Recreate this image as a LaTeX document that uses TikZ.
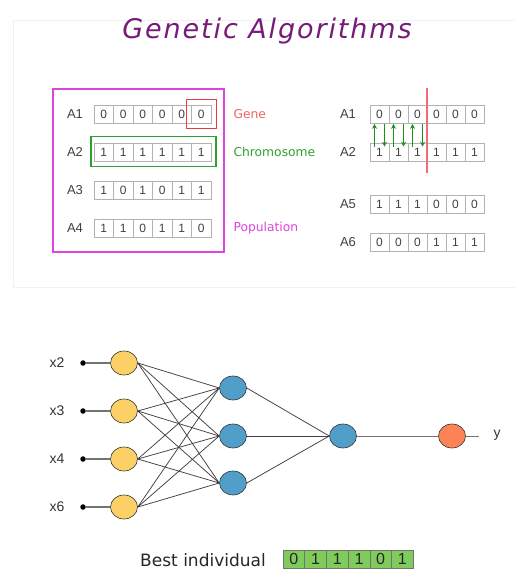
\documentclass[tikz,border=0pt]{standalone}
\usepackage{fontspec}
\setmainfont{Liberation Sans}
\newfontfamily\titlefont[LetterSpace=7]{DejaVu Sans}
\newfontfamily\widesans{DejaVu Sans}
\usetikzlibrary{shapes.geometric,arrows.meta}
\definecolor{titlepurple}{HTML}{761C78}
\definecolor{popmag}{HTML}{DD44DD}
\definecolor{genered}{HTML}{EE3B3B}
\definecolor{chromgreen}{HTML}{2EA02E}
\definecolor{cutred}{HTML}{F26A78}
\definecolor{swapgreen}{HTML}{1E8F1E}
\definecolor{inyellow}{HTML}{FBD066}
\definecolor{hidblue}{HTML}{519FC8}
\definecolor{outorange}{HTML}{FF8358}
\definecolor{bestgreen}{HTML}{7FCC5C}
\tikzset{
  x=1pt, y=-1pt,
  cell/.style={rectangle, draw=gray!60, line width=0.6pt, minimum width=#1, minimum height=18pt,
    inner sep=0pt, font=\fontsize{12}{12}\selectfont, text=black!75},
  cell/.default=19.5pt,
  rowlab/.style={font=\fontsize{13}{13}\selectfont, text=black!75},
  tag/.style={anchor=west, font=\widesans\fontsize{12.3}{12}\selectfont},
  swap/.style={draw=swapgreen, line width=1.1pt, -{Stealth[length=5pt,width=5pt]}},
  neuron/.style={ellipse, draw=black!80, line width=0.6pt, minimum width=27pt, minimum height=24pt, inner sep=0pt},
  wire/.style={draw=black!75, line width=0.75pt},
  inwire/.style={draw=black!55, line width=1.2pt},
  inlab/.style={font=\fontsize{14}{14}\selectfont, text=black!80},
  bestcell/.style={rectangle, draw=black!55, fill=bestgreen, line width=0.6pt, minimum width=21.7pt,
    minimum height=18pt, inner sep=0pt, font=\fontsize{16}{16}\selectfont, text=black!85}
}
% a row of genes: name, left edge, centre line, cell width, list of bits (a macro)
\newcommand\generow[5]{%
  \foreach \b [count=\i] in #5 {
    \node[cell=#4] (#1-\i) at ({#2+(\i-0.5)*#4},#3) {\b};
  }%
}
\begin{document}
\begin{tikzpicture}
\useasboundingbox (0,0) rectangle (514,569);

% faint frame of the upper panel
\draw[draw=black!6, line width=0.8pt] (13,287) -- (13,20) -- (530,20);
\draw[draw=black!5, line width=0.8pt] (13,287) -- (530,287);

% title
\node[anchor=base, font=\titlefont\itshape\fontsize{27}{28}\selectfont, text=titlepurple] (title) at (267,39) {Genetic Algorithms};

% population on the left
\foreach \r/\y/\bits in {1/114/{0,0,0,0,0,0}, 2/152/{1,1,1,1,1,1}, 3/190/{1,0,1,0,1,1}, 4/228/{1,1,0,1,1,0}} {
  \node[rowlab] (pa\r) at (75,\y) {A\r};
  \generow{p\r}{94}{\y}{19.5}{\bits}
}
\node[draw=popmag, line width=1.2pt, minimum width=171pt, minimum height=163pt, inner sep=0pt] (popbox) at (138.5,170.5) {};
\node[draw=genered, line width=1.1pt, minimum width=30pt, minimum height=29pt, inner sep=0pt] (genebox) at (p1-6) {};
\node[draw=chromgreen, line width=1.1pt, minimum width=125pt, minimum height=30pt, inner sep=0pt] (chrombox) at (153.5,151.5) {};
\node[tag, text=genered!80] (genetag) at (230,114) {Gene};
\node[tag, text=chromgreen] (chromtag) at (230,152) {Chromosome};
\node[tag, text=popmag] (poptag) at (230,228) {Population};

% crossover on the right
\foreach \lab/\nm/\y/\bits in {A1/c1/114/{0,0,0,0,0,0}, A2/c2/152/{1,1,1,1,1,1}, A5/c5/204/{1,1,1,0,0,0}, A6/c6/242/{0,0,0,1,1,1}} {
  \node[rowlab] (\nm lab) at (348,\y) {\lab};
  \generow{\nm}{370}{\y}{19}{\bits}
}
\coordinate (cuttop) at (427,88);
\coordinate (cutbot) at (427,173);
\draw[draw=cutred, line width=1.6pt] (cuttop) -- (cutbot);
\foreach \i in {1,2,3} {
  \draw[swap] ([xshift=-5pt,yshift=-4pt]c2-\i.north) -- ([xshift=-5pt,yshift=-0.5pt]c1-\i.south);
  \draw[swap] ([xshift=5pt,yshift=-0.5pt]c1-\i.south) -- ([xshift=5pt,yshift=-4pt]c2-\i.north);
}

% neural network
\foreach \n/\lab/\y in {1/x2/363, 2/x3/411, 3/x4/459, 4/x6/507} {
  \node[inlab] (xl\n) at (57,\y) {\lab};
  \node[circle, fill=black, inner sep=0pt, minimum size=5.5pt] (xd\n) at (83,\y) {};
  \node[neuron, fill=inyellow] (in\n) at (124,\y) {};
  \draw[inwire] (xd\n) -- (in\n);
}
\foreach \h/\y in {1/388, 2/436, 3/483} {
  \node[neuron, fill=hidblue] (hid\h) at (233,\y) {};
}
\node[neuron, fill=hidblue] (outn) at (343,436) {};
\node[neuron, fill=outorange] (fin) at (452,436) {};
\foreach \n in {1,...,4} {
  \foreach \h in {1,2,3} {
    \draw[wire] (in\n.east) -- (hid\h.west);
  }
}
\foreach \h in {1,2,3} {
  \draw[wire] (hid\h.east) -- (outn.west);
}
\draw[inwire, line width=1pt] (outn) -- (fin);
\coordinate (yend) at (479,436);
\draw[inwire, line width=1pt] (fin) -- (yend);
\node[inlab] (ylab) at (497,435) {y};

% best individual
\node[anchor=base, inner sep=0pt, font=\widesans\fontsize{17}{17}\selectfont, text=black!85] (bestlab) at (203,566) {Best individual};
\foreach \b [count=\i] in {0,1,1,1,0,1} {
  \node[bestcell] (best\i) at ({283+(\i-0.5)*21.7},559) {\b};
}
\end{tikzpicture}
\end{document}
